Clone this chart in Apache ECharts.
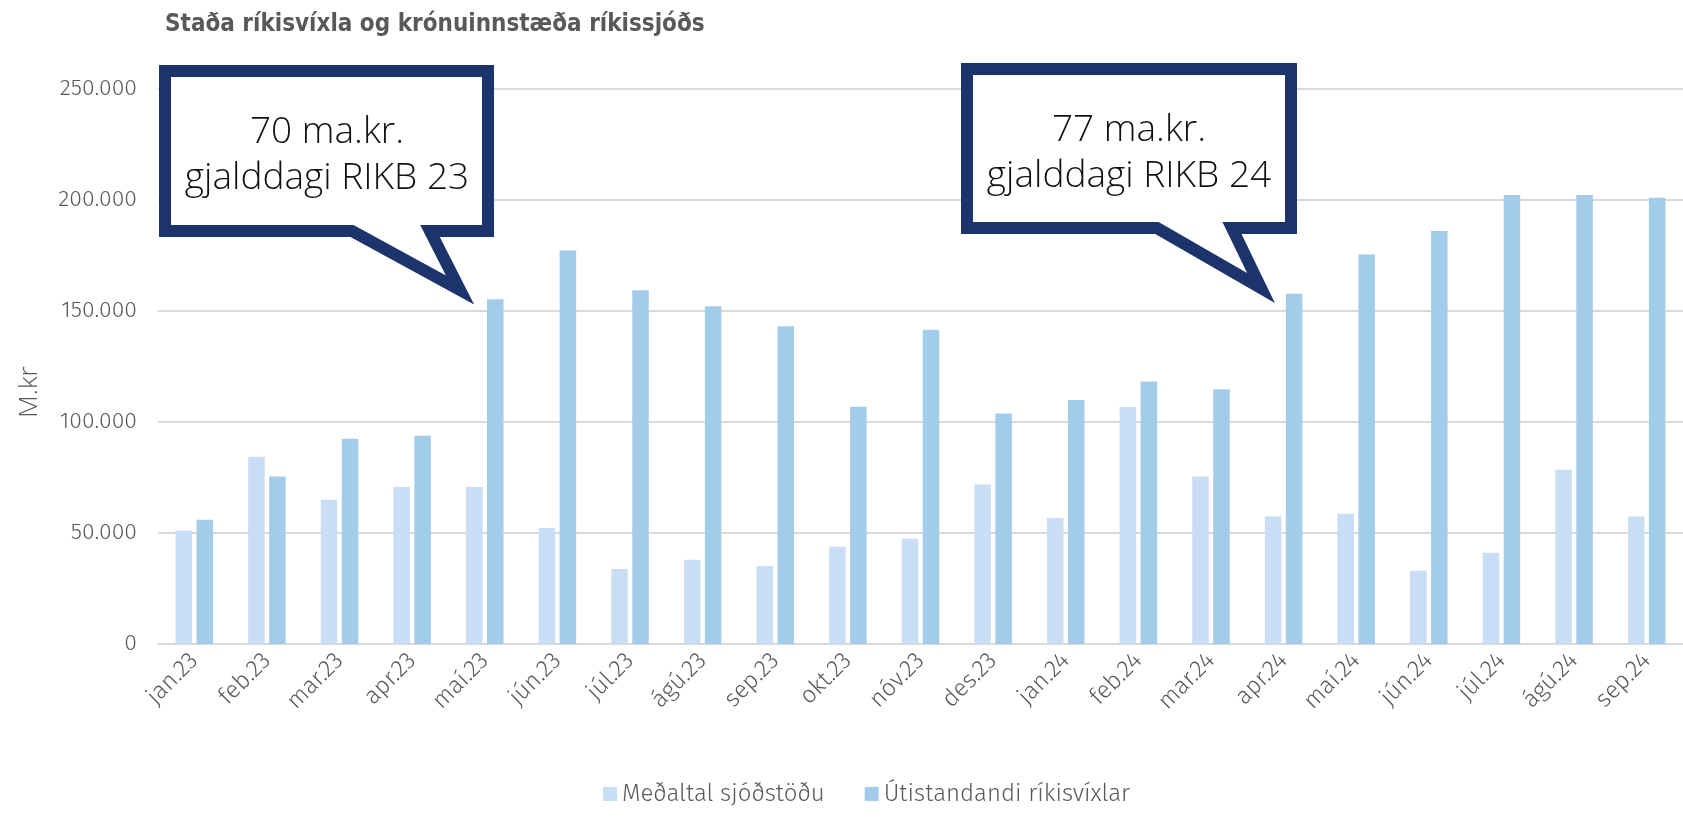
<!DOCTYPE html>
<html><head><meta charset="utf-8">
<script src="https://cdn.jsdelivr.net/npm/echarts/dist/echarts.min.js"></script>
<style>html,body{margin:0;padding:0;background:#fff}#c{width:1683px;height:818px}</style>
</head><body><div id="c"></div>
<script>
const categories = ['jan.23','feb.23','mar.23','apr.23','maí.23','jún.23','júl.23','ágú.23','sep.23','okt.23','nóv.23','des.23','jan.24','feb.24','mar.24','apr.24','maí.24','jún.24','júl.24','ágú.24','sep.24'];
const medaltalSjodstodu = [51100,84400,65000,70700,70700,52300,33800,38000,35100,43800,47400,71800,56800,106800,75500,57400,58700,33000,41100,78500,57400];
const utistandandiRikisvixlar = [56000,75500,92500,93800,155300,177300,159300,152100,143100,106900,141600,103800,109900,118200,114700,157800,175400,186000,202300,202300,201000];
const seriesNames = ['Meðaltal sjóðstöðu','Útistandandi ríkisvíxlar'];
const yMin = 0, yMax = 250000, yInterval = 50000;
const titleText = 'Staða ríkisvíxla og krónuinnstæða ríkissjóðs';
const yAxisName = 'M.kr';
const callout1 = ['70 ma.kr.','gjalddagi RIKB 23'];
const callout2 = ['77 ma.kr.','gjalddagi RIKB 24'];

const LIGHT = "'Fira Sans','Open Sans',sans-serif";
const GREY = '#595959';
const NAVY = '#1c336b';
const fmt = v => String(v).replace(/\B(?=(\d{3})+(?!\d))/g, '.');

function calloutShape(left, top, right, bottom, b1, b2, tipX, tipY) {
  return [[left,top],[right,top],[right,bottom],[b2,bottom],[tipX,tipY],[b1,bottom],[left,bottom]];
}

const chart = echarts.init(document.getElementById('c'), null, {renderer:'canvas'});
chart.setOption({
  animation: false,
  backgroundColor: '#fff',
  title: {
    text: titleText, left: 160, top: 8,
    textStyle: {fontFamily: "'Liberation Sans Narrow','DejaVu Sans Condensed',sans-serif", fontWeight: 'bold', fontSize: 24, color: GREY}
  },
  grid: {left: 158, right: 0, top: 89, bottom: 174, containLabel: false},
  legend: {
    data: seriesNames, bottom: 7, left: 598, icon: 'rect', itemWidth: 14, itemHeight: 14, itemGap: 40,
    textStyle: {fontFamily: LIGHT, fontWeight: 300, fontSize: 24, color: GREY}
  },
  xAxis: {
    type: 'category', data: categories,
    axisLine: {lineStyle: {color: '#d9d9d9', width: 2}},
    axisTick: {show: false},
    axisLabel: {rotate: 45, margin: 13, fontFamily: LIGHT, fontWeight: 300, fontSize: 24, color: GREY, interval: 0}
  },
  yAxis: {
    type: 'value', min: yMin, max: yMax, interval: yInterval,
    axisLine: {show: false}, axisTick: {show: false},
    splitLine: {lineStyle: {color: '#d9d9d9', width: 2}},
    axisLabel: {formatter: fmt, margin: 21, fontFamily: LIGHT, fontWeight: 300, fontSize: 23, color: GREY}
  },
  series: [
    {name: seriesNames[0], type: 'bar', data: medaltalSjodstodu, barWidth: 16.5, barGap: '27%',
     itemStyle: {color: '#c9ddf4'}},
    {name: seriesNames[1], type: 'bar', data: utistandandiRikisvixlar, barWidth: 16.5, barGap: '27%',
     itemStyle: {color: '#a3cbea'}}
  ],
  graphic: [
    {type: 'text', x: 30, y: 392, rotation: Math.PI / 2,
     style: {text: yAxisName, align: 'center', verticalAlign: 'middle', font: "300 26px 'Open Sans',sans-serif", fill: GREY}},
    {type: 'polygon', shape: {points: calloutShape(165,71,488,231,352,430,460,290)},
     style: {fill: '#fff', stroke: NAVY, lineWidth: 12, lineJoin: 'miter'}, z: 100},
    {type: 'text', x: 327, y: 155, style: {text: callout1.join('\n'), align: 'center', verticalAlign: 'middle',
     font: "300 37px 'Open Sans',sans-serif", lineHeight: 46, fill: '#111'}, z: 101},
    {type: 'polygon', shape: {points: calloutShape(967,69,1291,228,1157,1232,1261,288)},
     style: {fill: '#fff', stroke: NAVY, lineWidth: 12, lineJoin: 'miter'}, z: 100},
    {type: 'text', x: 1129, y: 153, style: {text: callout2.join('\n'), align: 'center', verticalAlign: 'middle',
     font: "300 37px 'Open Sans',sans-serif", lineHeight: 46, fill: '#111'}, z: 101}
  ]
});
</script></body></html>
